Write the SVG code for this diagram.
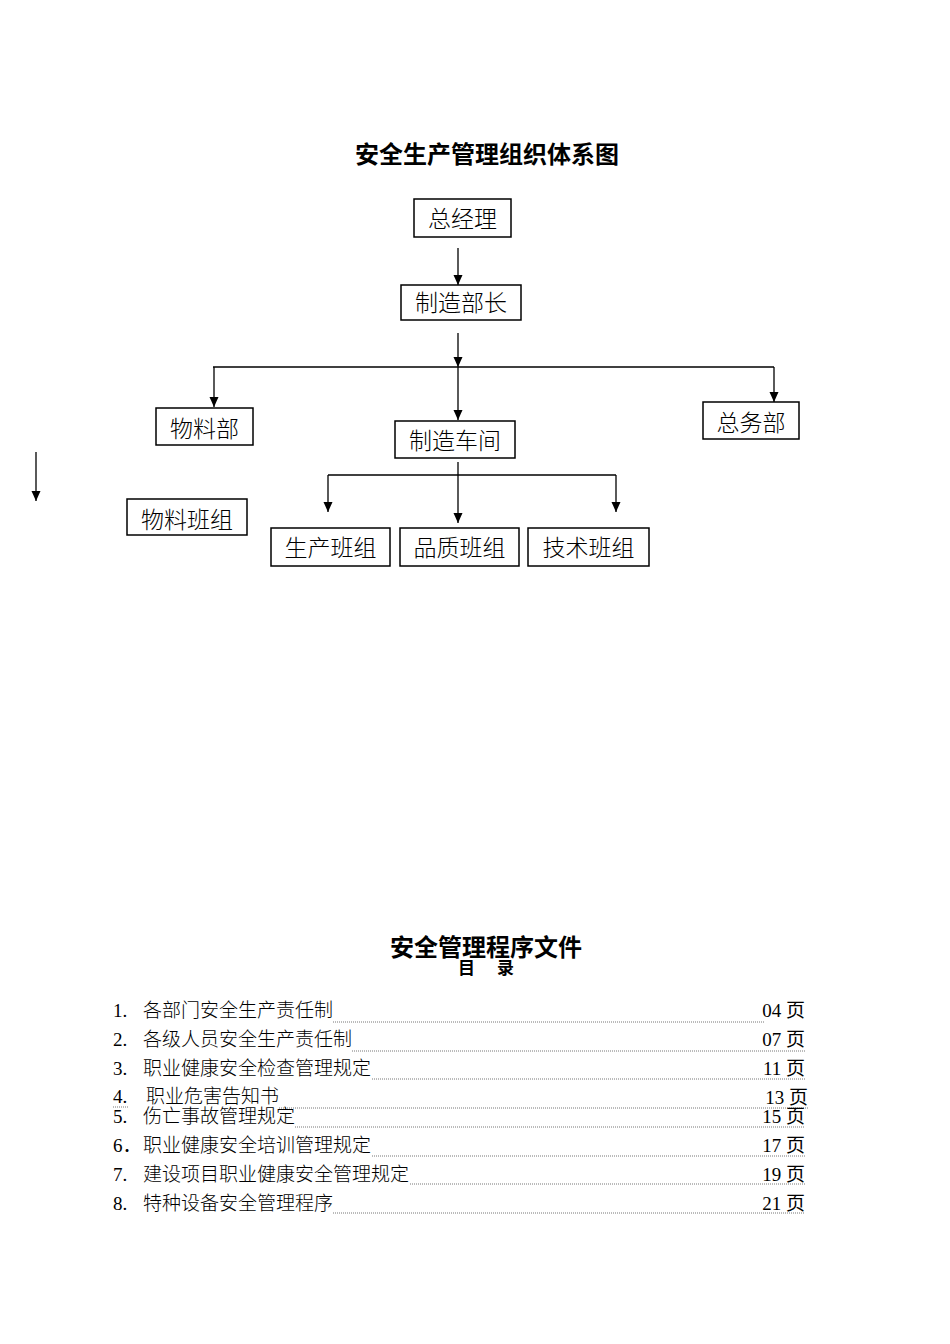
<svg xmlns="http://www.w3.org/2000/svg" width="950" height="1344" viewBox="0 0 950 1344">
<defs>
<marker id="ah" markerUnits="userSpaceOnUse" markerWidth="10" markerHeight="11" refX="10" refY="4.5" orient="auto" viewBox="0 0 10 9">
<path d="M0,0 L10,4.5 L0,9 z" fill="#000"/>
</marker>
<style>
.box{fill:#fff;stroke:#000;stroke-width:1.5}
.lbl{font-family:"Noto Sans CJK SC","Noto Sans",sans-serif;font-size:23px;text-anchor:middle;fill:#000;font-weight:300}
.title{font-family:"Noto Sans CJK SC","Noto Sans",sans-serif;font-size:24px;font-weight:bold;text-anchor:middle;fill:#000}
.conn line{stroke:#000;stroke-width:1.3;fill:none}
.arr{marker-end:url(#ah)}
.toc{font-family:"Liberation Serif","Noto Sans CJK SC",serif;font-size:19px;fill:#000}
.cjk{font-family:"Noto Sans CJK SC","Noto Sans",sans-serif;font-weight:300}
.pg{font-family:"Liberation Serif","Noto Sans CJK SC",serif;font-size:19px;text-anchor:end;fill:#000}
.lead{stroke:#777;stroke-width:1;stroke-dasharray:1 1}
</style>
</defs>
<rect width="950" height="1344" fill="#fff"/>

<text class="title" x="487" y="163">安全生产管理组织体系图</text>

<g id="connectors" class="conn">
<line class="arr" x1="458" y1="248" x2="458" y2="285"/>
<line class="arr" x1="458" y1="333" x2="458" y2="367"/>
<line class="arr" x1="458" y1="367" x2="458" y2="420"/>
<line x1="213" y1="367" x2="774" y2="367"/>
<line class="arr" x1="214" y1="367" x2="214" y2="407"/>
<line class="arr" x1="774" y1="367" x2="774" y2="402"/>
<line class="arr" x1="458" y1="462" x2="458" y2="523"/>
<line x1="328" y1="475" x2="616" y2="475"/>
<line class="arr" x1="328" y1="475" x2="328" y2="512"/>
<line class="arr" x1="616" y1="475" x2="616" y2="512"/>
<line class="arr" x1="36" y1="452" x2="36" y2="501"/>
</g>

<g id="n-zongjingli"><rect class="box" x="414" y="199" width="97" height="38"/><text class="lbl" x="462.5" y="227">总经理</text></g>
<g id="n-zhizaobuzhang"><rect class="box" x="401" y="285" width="120" height="35"/><text class="lbl" x="461" y="311">制造部长</text></g>
<g id="n-wuliaobu"><rect class="box" x="156" y="408" width="97" height="37"/><text class="lbl" x="204.5" y="437">物料部</text></g>
<g id="n-zongwubu"><rect class="box" x="703" y="402" width="96" height="37"/><text class="lbl" x="751" y="431">总务部</text></g>
<g id="n-zhizaochejian"><rect class="box" x="395" y="421" width="120" height="37"/><text class="lbl" x="455" y="449">制造车间</text></g>
<g id="n-wuliaobanzu"><rect class="box" x="127" y="499" width="120" height="36"/><text class="lbl" x="187" y="528">物料班组</text></g>
<g id="n-shengchan"><rect class="box" x="271" y="528" width="119" height="38"/><text class="lbl" x="330.5" y="556">生产班组</text></g>
<g id="n-pinzhi"><rect class="box" x="400" y="528" width="119" height="38"/><text class="lbl" x="459.5" y="556">品质班组</text></g>
<g id="n-jishu"><rect class="box" x="528" y="528" width="121" height="38"/><text class="lbl" x="588.5" y="556">技术班组</text></g>

<g id="toc">
<text class="title" x="486" y="956">安全管理程序文件</text>
<text x="458" y="974" xml:space="preserve" style="font-family:'Noto Sans CJK SC',sans-serif;font-size:17px;font-weight:bold">目 <tspan x="497">录</tspan></text>

<text class="toc" x="113" y="1017">1.<tspan class="cjk" x="143">各部门安全生产责任制</tspan></text>
<line class="lead" x1="333" y1="1022" x2="765" y2="1022"/>
<text class="pg" x="805" y="1017">04 页</text>

<text class="toc" x="113" y="1046">2.<tspan class="cjk" x="143">各级人员安全生产责任制</tspan></text>
<line class="lead" x1="352" y1="1051" x2="805" y2="1051"/>
<text class="pg" x="805" y="1046">07 页</text>

<text class="toc" x="113" y="1075">3.<tspan class="cjk" x="143">职业健康安全检查管理规定</tspan></text>
<line class="lead" x1="372" y1="1079" x2="805" y2="1079"/>
<text class="pg" x="805" y="1075">11 页</text>

<text class="toc" x="113" y="1103">4.<tspan class="cjk" x="146">职业危害告知书</tspan></text>
<line class="lead" x1="113" y1="1107" x2="128" y2="1107"/>
<line class="lead" x1="279" y1="1108" x2="808" y2="1108"/>
<text class="pg" x="808" y="1104">13 页</text>

<text class="toc" x="113" y="1123">5.<tspan class="cjk" x="143">伤亡事故管理规定</tspan></text>
<line class="lead" x1="295" y1="1127" x2="805" y2="1127"/>
<text class="pg" x="805" y="1123">15 页</text>

<text class="toc" x="113" y="1152">6．<tspan class="cjk" x="143">职业健康安全培训管理规定</tspan></text>
<line class="lead" x1="372" y1="1156" x2="805" y2="1156"/>
<text class="pg" x="805" y="1152">17 页</text>

<text class="toc" x="113" y="1181">7.<tspan class="cjk" x="143">建设项目职业健康安全管理规定</tspan></text>
<line class="lead" x1="410" y1="1184" x2="805" y2="1184"/>
<text class="pg" x="805" y="1181">19 页</text>

<text class="toc" x="113" y="1210">8.<tspan class="cjk" x="143">特种设备安全管理程序</tspan></text>
<line class="lead" x1="333" y1="1213" x2="805" y2="1213"/>
<text class="pg" x="805" y="1210">21 页</text>
</g>
</svg>
